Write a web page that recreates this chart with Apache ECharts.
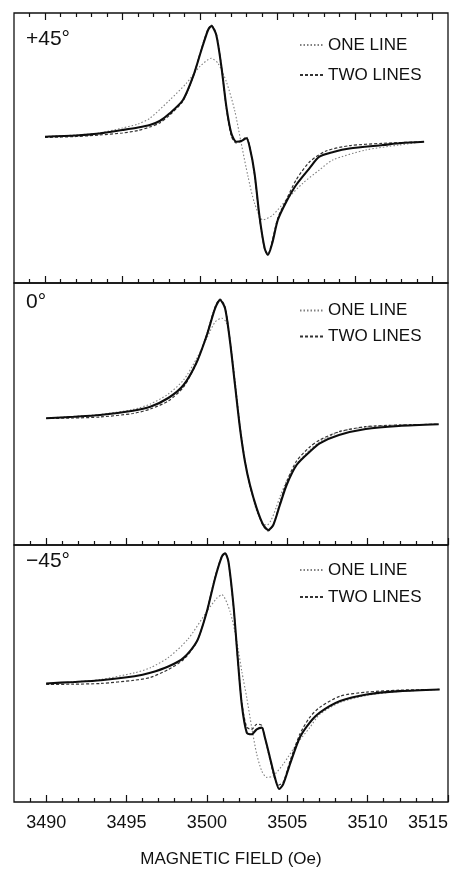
<!DOCTYPE html>
<html>
<head>
<meta charset="utf-8">
<script src="https://cdn.jsdelivr.net/npm/echarts@6/dist/echarts.min.js"></script>
<style>
html,body{margin:0;padding:0;background:#fff;}
#chart{width:466px;height:869px;}
</style>
</head>
<body>
<div id="chart"></div>
<script>
// ---------- DATA (field in Oe, signal in arbitrary units) ----------
const majorTicks = [3490, 3495, 3500, 3505, 3510, 3515];
const minorTicks = [3489, 3491, 3492, 3493, 3494, 3496, 3497, 3498, 3499, 3501, 3502, 3503, 3504,
                    3506, 3507, 3508, 3509, 3511, 3512, 3513, 3514];
const panelLabels = ['+45°', '0°', '\u221245°'];
const legendNames = ['ONE LINE', 'TWO LINES'];
const axisTitle = 'MAGNETIC FIELD (Oe)';

// +45 degrees
const plus45Experiment = [[3490.0,0.33],[3492.0,0.45],[3493.5,0.65],[3495.0,1.0],[3496.0,1.25],[3496.76,1.5],
  [3497.4,1.9],[3498.05,2.67],[3498.9,4.0],[3499.55,6.33],[3500.09,9.0],[3500.52,11.0],[3500.73,11.4],
  [3501.05,10.5],[3501.38,7.33],[3501.7,3.33],[3502.02,0.67],[3502.34,-0.17],[3502.66,-0.1],[3502.99,0.17],
  [3503.2,-0.67],[3503.52,-3.33],[3503.84,-7.67],[3504.17,-10.83],[3504.38,-11.5],[3504.66,-10.33],
  [3505.02,-8.0],[3505.56,-6.2],[3506.2,-4.5],[3507.06,-2.83],[3507.7,-1.67],[3508.6,-1.2],[3509.64,-0.85],
  [3511.8,-0.5],[3513.0,-0.3],[3514.46,-0.17]];
const plus45OneLine = [[3490.0,0.35],[3492.0,0.5],[3493.5,0.7],[3495.0,1.2],[3496.0,1.6],[3496.76,2.17],
  [3498.05,4.0],[3499.12,5.67],[3499.98,7.33],[3500.73,8.17],[3501.16,7.67],[3501.7,5.83],[3502.23,3.0],
  [3502.66,-0.33],[3503.1,-3.67],[3503.52,-6.33],[3504.06,-8.0],[3504.7,-7.5],[3505.56,-6.0],[3506.63,-4.33],
  [3507.7,-3.0],[3508.56,-2.0],[3510.7,-1.0],[3512.85,-0.5],[3514.46,-0.17]];
const plus45TwoLines = [[3490.0,0.25],[3492.0,0.35],[3493.5,0.5],[3495.0,0.7],[3496.0,0.95],[3496.76,1.3],
  [3497.4,1.7],[3498.05,2.5],[3498.9,3.9],[3499.55,6.3],[3500.09,9.1],[3500.52,11.1],[3500.73,11.5],
  [3501.05,10.6],[3501.38,7.4],[3501.7,3.2],[3502.02,0.4],[3502.34,-0.3],[3502.66,-0.1],[3502.99,0.3],
  [3503.2,-0.6],[3503.52,-3.5],[3503.84,-7.8],[3504.17,-10.9],[3504.38,-11.4],[3504.66,-10.1],[3505.02,-7.8],
  [3505.56,-6.0],[3506.2,-4.0],[3507.06,-2.2],[3508.13,-1.1],[3509.64,-0.57],[3511.8,-0.33],[3514.46,-0.17]];

// 0 degrees
const zeroExperiment = [[3490.0,0.27],[3491.7,0.42],[3493.35,0.6],[3495.4,1.03],[3496.48,1.43],[3497.6,2.3],
  [3498.55,3.6],[3499.38,5.93],[3500.0,8.6],[3500.51,11.27],[3500.82,12.1],[3501.13,11.27],[3501.44,7.93],
  [3501.75,3.6],[3502.06,-0.73],[3502.37,-4.07],[3502.68,-6.4],[3503.1,-8.73],[3503.51,-10.4],[3503.82,-10.9],
  [3504.13,-10.4],[3504.54,-8.4],[3504.96,-6.4],[3505.58,-4.4],[3506.4,-3.07],[3507.02,-2.23],[3508.22,-1.4],
  [3509.88,-0.8],[3511.94,-0.5],[3514.42,-0.33]];
const zeroOneLine = [[3490.0,0.3],[3491.7,0.45],[3493.35,0.65],[3495.4,1.15],[3496.48,1.7],[3497.6,2.7],
  [3498.55,4.1],[3499.38,6.3],[3500.0,8.3],[3500.51,9.9],[3500.93,10.27],[3501.2,9.9],[3501.44,8.1],
  [3501.75,4.1],[3502.06,-0.4],[3502.37,-3.9],[3502.68,-6.5],[3503.1,-9.0],[3503.51,-10.3],[3503.75,-10.4],
  [3504.0,-9.9],[3504.3,-8.7],[3504.54,-7.6],[3504.96,-6.0],[3505.58,-4.3],[3506.4,-2.9],[3507.02,-2.1],
  [3508.22,-1.1],[3509.88,-0.6],[3511.94,-0.4],[3514.42,-0.33]];
const zeroTwoLines = [[3490.0,0.25],[3491.7,0.3],[3493.35,0.4],[3495.4,0.75],[3496.48,1.2],[3497.6,2.0],
  [3498.55,3.4],[3499.38,5.9],[3500.0,8.7],[3500.51,11.4],[3500.82,12.2],[3501.13,11.4],[3501.44,8.0],
  [3501.75,3.6],[3502.06,-0.7],[3502.37,-4.1],[3502.68,-6.5],[3503.1,-8.8],[3503.51,-10.5],[3503.82,-11.0],
  [3504.13,-10.4],[3504.54,-8.2],[3504.96,-6.1],[3505.58,-4.0],[3506.4,-2.6],[3507.02,-1.9],[3508.22,-1.07],
  [3509.88,-0.57],[3511.94,-0.4],[3514.42,-0.33]];

// -45 degrees
const minus45Experiment = [[3490.0,0.3],[3491.7,0.45],[3493.4,0.63],[3495.5,1.03],[3496.48,1.37],[3497.6,2.0],
  [3498.55,2.87],[3499.38,4.53],[3500.0,7.53],[3500.51,10.87],[3500.93,13.03],[3501.13,13.37],[3501.34,12.53],
  [3501.65,8.2],[3501.9,3.2],[3502.17,-1.8],[3502.48,-4.63],[3502.79,-4.8],[3503.1,-4.3],[3503.41,-4.13],
  [3503.61,-5.13],[3503.92,-7.13],[3504.23,-9.13],[3504.5,-10.3],[3504.75,-9.8],[3505.17,-7.8],[3505.78,-5.13],
  [3506.4,-3.63],[3507.02,-2.63],[3508.29,-1.47],[3509.94,-0.8],[3512.0,-0.47],[3514.48,-0.3]];
const minus45OneLine = [[3490.0,0.3],[3491.7,0.45],[3493.4,0.7],[3495.5,1.37],[3496.48,1.87],[3497.6,2.9],
  [3498.8,4.7],[3500.0,7.53],[3500.62,8.87],[3500.93,9.2],[3501.44,7.53],[3501.86,4.53],[3502.17,1.53],
  [3502.48,-1.13],[3502.79,-4.13],[3503.1,-6.8],[3503.41,-8.47],[3503.72,-9.13],[3504.13,-8.97],[3504.75,-7.8],
  [3505.58,-5.8],[3506.4,-4.13],[3507.02,-2.8],[3508.29,-1.6],[3509.94,-0.9],[3512.0,-0.5],[3514.48,-0.3]];
const minus45TwoLines = [[3490.0,0.2],[3491.7,0.23],[3493.4,0.3],[3495.5,0.63],[3496.48,0.9],[3497.6,1.7],
  [3498.55,2.7],[3499.38,4.5],[3500.0,7.6],[3500.51,11.0],[3500.93,13.1],[3501.13,13.4],[3501.34,12.5],
  [3501.65,8.1],[3501.9,3.1],[3502.17,-1.6],[3502.48,-4.1],[3502.79,-4.3],[3503.1,-3.8],[3503.41,-3.9],
  [3503.61,-5.1],[3503.92,-7.3],[3504.23,-9.3],[3504.45,-9.9],[3504.75,-9.6],[3505.17,-7.5],[3505.78,-4.8],
  [3506.4,-3.1],[3507.02,-2.1],[3508.29,-0.97],[3509.94,-0.57],[3512.0,-0.37],[3514.48,-0.3]];

// ---------- CHART ----------
const FONT = "'Liberation Sans', Arial, sans-serif";
const INK = '#111';

const grids = [
  {left: 14, right: 18, top: 13, height: 270},
  {left: 14, right: 18, top: 283, height: 262},
  {left: 14, right: 18, top: 545, height: 258}
];
const xRanges = [[3488, 3516], [3488, 3515], [3488, 3515]];
const yRanges = [[-14.3, 12.7], [-12.4, 13.8], [-11.6, 14.2]];

function tickAxis(gridIndex, values, len, position, range, extra) {
  return Object.assign({
    type: 'value', gridIndex: gridIndex, position: position,
    min: range[0], max: range[1],
    axisLine: {show: false, onZero: false},
    splitLine: {show: false},
    axisLabel: {show: false},
    axisTick: {show: true, inside: true, length: len, customValues: values,
               lineStyle: {color: INK, width: 1.2}}
  }, extra || {});
}

const xAxes = [];
const seriesAxisIndex = [];
for (let g = 0; g < 3; g++) {
  seriesAxisIndex.push(xAxes.length);
  const extra = (g === 2) ? {
    axisLabel: {show: true, customValues: majorTicks, margin: 12, fontFamily: FONT, fontSize: 18,
                color: INK, showMaxLabel: true, showMinLabel: true, hideOverlap: false,
                alignMaxLabel: 'right', formatter: v => String(v)},
    name: axisTitle, nameLocation: 'middle', nameGap: 49,
    nameTextStyle: {fontFamily: FONT, fontSize: 17, color: INK}
  } : {};
  xAxes.push(tickAxis(g, majorTicks, 7, 'bottom', xRanges[g], extra));
  xAxes.push(tickAxis(g, minorTicks, 4, 'bottom', xRanges[g]));
  if (g === 0) {
    xAxes.push(tickAxis(g, majorTicks, 7, 'top', xRanges[g]));
    xAxes.push(tickAxis(g, minorTicks, 4, 'top', xRanges[g]));
  }
}

const yAxes = yRanges.map((r, g) => ({
  type: 'value', gridIndex: g, min: r[0], max: r[1], show: false
}));

const panels = [
  [plus45Experiment, plus45OneLine, plus45TwoLines],
  [zeroExperiment, zeroOneLine, zeroTwoLines],
  [minus45Experiment, minus45OneLine, minus45TwoLines]
];

const ONE_COLOR = '#808080';
const TWO_COLOR = '#333333';
const series = [];
panels.forEach((p, g) => {
  const base = {type: 'line', xAxisIndex: seriesAxisIndex[g], yAxisIndex: g, symbol: 'none',
                showSymbol: false, smooth: 0.25, animation: false, silent: true};
  series.push(Object.assign({}, base, {name: 'EXPERIMENT', data: p[0], z: 3,
    itemStyle: {color: '#0d0d0d'}, lineStyle: {color: '#0d0d0d', width: 2.1}}));
  series.push(Object.assign({}, base, {name: legendNames[0], data: p[1], z: 2,
    itemStyle: {color: ONE_COLOR}, lineStyle: {color: ONE_COLOR, width: 1.1, type: [1.5, 2]}}));
  series.push(Object.assign({}, base, {name: legendNames[1], data: p[2], z: 2,
    itemStyle: {color: TWO_COLOR}, lineStyle: {color: TWO_COLOR, width: 1.2, type: [3, 2]}}));
});

const legendTops = [29, 294.5, 554];
const legendGaps = [8, 4, 5];
const legends = legendTops.map((t, i) => ({
  data: legendNames, orient: 'vertical', left: 294, top: t,
  itemWidth: 23, itemHeight: 14, itemGap: legendGaps[i], selectedMode: false,
  itemStyle: {opacity: 0},
  textStyle: {fontFamily: FONT, fontSize: 17, color: INK, lineHeight: 22}
}));

const labelCenters = [40, 303, 562];
const graphics = panelLabels.map((txt, i) => ({
  type: 'text', left: 26, top: labelCenters[i] - 11,
  style: {text: txt, font: '21px ' + FONT, fill: INK}
}));

const chart = echarts.init(document.getElementById('chart'), null, {renderer: 'canvas'});
chart.setOption({
  backgroundColor: '#fff',
  animation: false,
  grid: grids.map(g => Object.assign({show: true, borderColor: INK, borderWidth: 1.3,
                                       backgroundColor: 'transparent'}, g)),
  xAxis: xAxes,
  yAxis: yAxes,
  legend: legends,
  graphic: graphics,
  series: series
});
</script>
</body>
</html>
